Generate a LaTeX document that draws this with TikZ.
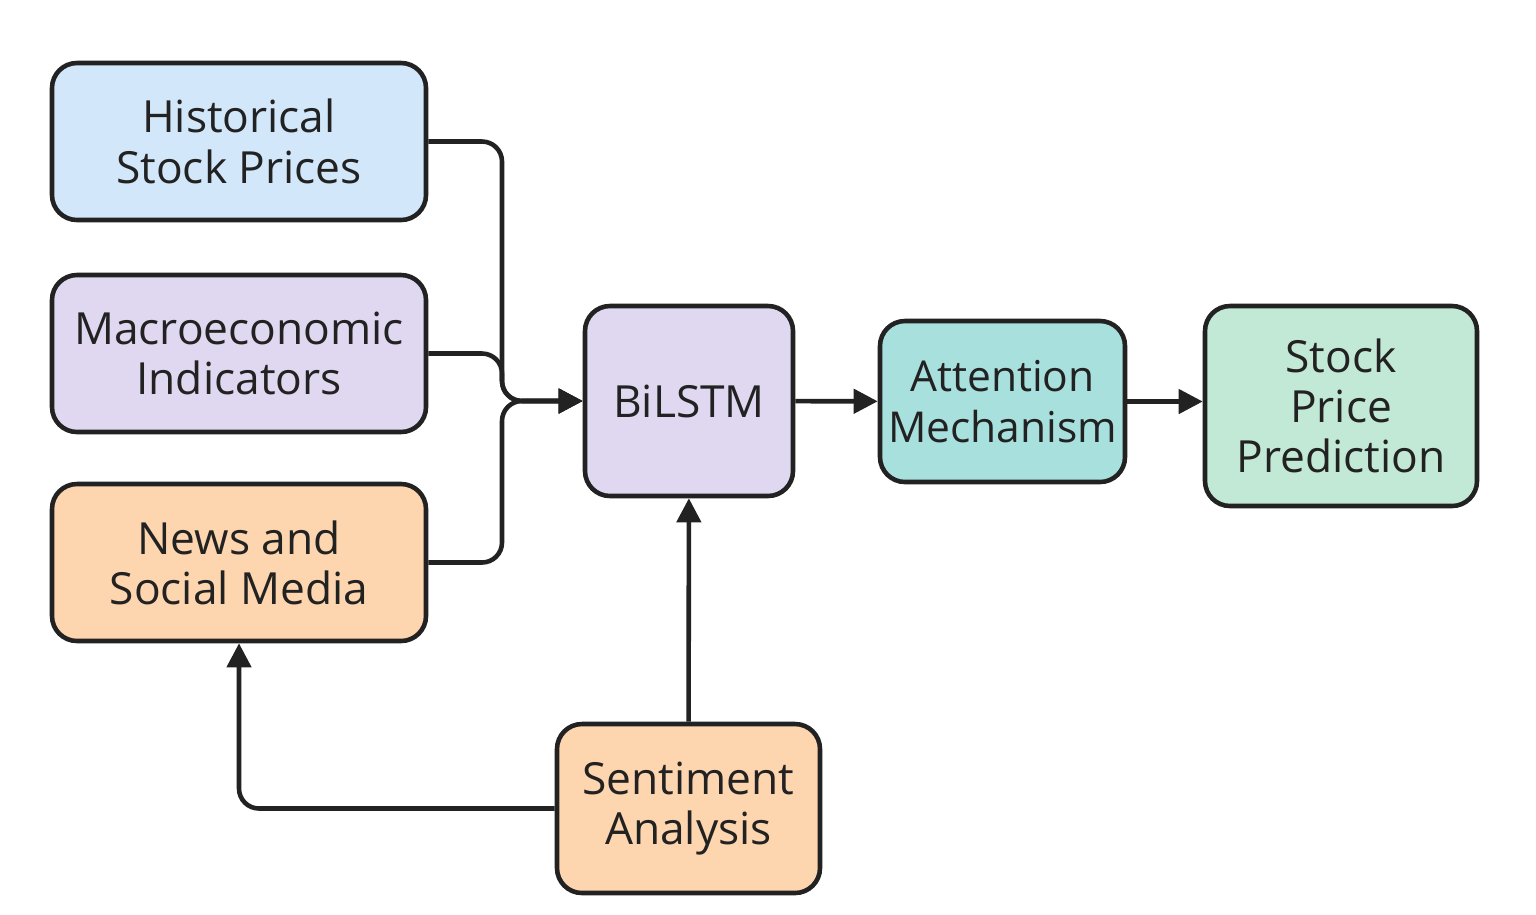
\documentclass[tikz,border=0pt]{standalone}
\usepackage{fontspec}
\setmainfont{Open Sans}
\usetikzlibrary{arrows.meta,positioning}
\definecolor{histblue}{HTML}{D2E7FA}
\definecolor{macrolilac}{HTML}{E0D7F0}
\definecolor{newspeach}{HTML}{FDD5AE}
\definecolor{attnteal}{HTML}{A8E0DE}
\definecolor{predgreen}{HTML}{C2E8D6}
\definecolor{edgegray}{HTML}{222222}
\begin{document}
\begin{tikzpicture}[every node/.style = {shape=rectangle, rounded corners=0.25cm, draw=edgegray, line width=1.3pt, align=center, inner xsep=0pt, font=\fontsize{12.6}{14.3}\selectfont, text=edgegray}]
			\tikzset{ flow/.style = {draw=edgegray, line width=1.3pt, rounded corners=0.2cm, -{Triangle[length=0.24cm,width=0.24cm]}} }
			\tikzset{ srcbox/.style = {minimum width=3.74cm, minimum height=1.57cm} }
			\useasboundingbox (0,0) rectangle (15.36,-9.14);
			% inputs
			\node [srcbox, fill=histblue] (hist) at (2.39,-1.415) {Historical\\Stock Prices};
			\node [srcbox, fill=macrolilac] (macro) at (2.39,-3.535) {Macroeconomic\\Indicators};
			\node [srcbox, fill=newspeach] (news) at (2.39,-5.625) {News and\\Social Media};
			% model
			\node [fill=macrolilac, minimum width=2.08cm, minimum height=1.9cm] (bilstm) at (6.89,-4.01) {BiLSTM};
			\node [fill=attnteal, minimum width=2.45cm, minimum height=1.61cm, font=\fontsize{12.1}{14.3}\selectfont] (attn) at (10.025,-4.015) {Attention\\Mechanism};
			\node [fill=predgreen, minimum width=2.72cm, minimum height=2.0cm] (pred) at (13.41,-4.06) {Stock\\Price\\Prediction};
			\node [fill=newspeach, minimum width=2.63cm, minimum height=1.69cm] (sent) at (6.885,-8.085) {Sentiment\\Analysis};
			\coordinate (join) at (5.02,-4.01);
			% connectors
			\draw [flow] (hist.east) -| (join) -- (bilstm.west);
			\draw [flow] (macro.east) -| (join) -- (bilstm.west);
			\draw [flow] (news.east) -| (join) -- (bilstm.west);
			\draw [flow] (bilstm) -- (attn);
			\draw [flow] (attn) -- (pred.west |- attn);
			\draw [flow] (sent) -- (bilstm);
			\draw [flow] (sent.west) -| (news.south);
		\end{tikzpicture}
\end{document}
